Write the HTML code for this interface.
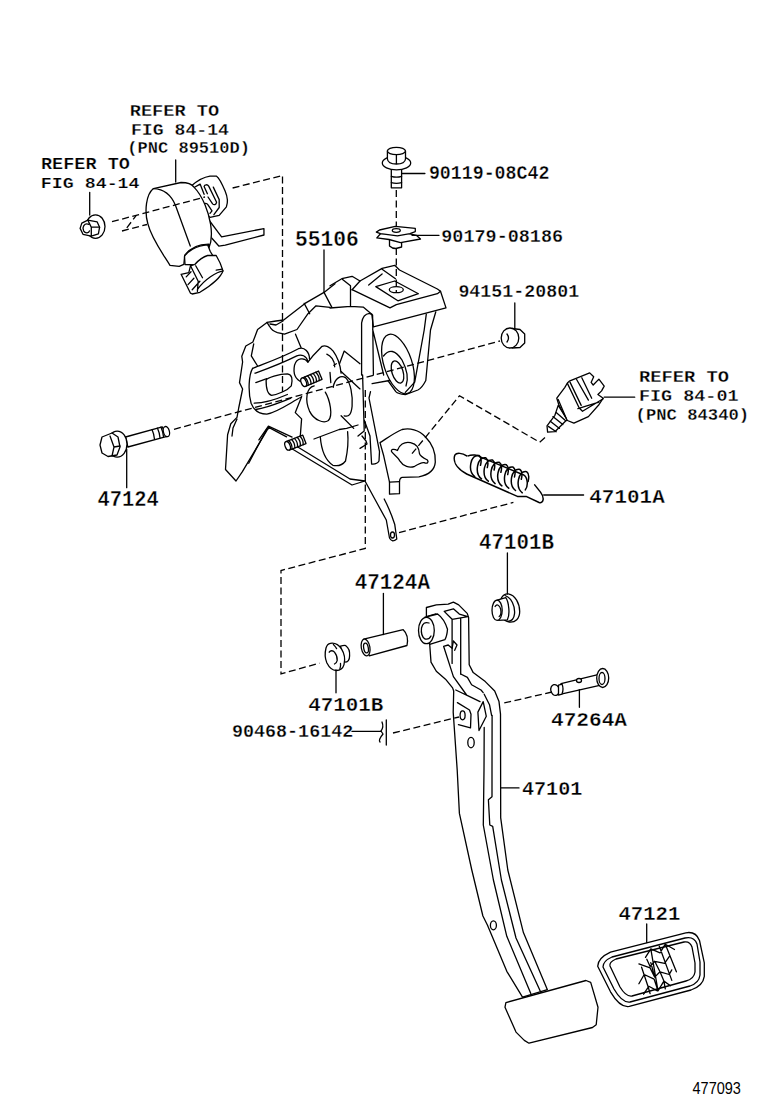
<!DOCTYPE html>
<html><head><meta charset="utf-8"><style>
html,body{margin:0;padding:0;background:#fff;width:760px;height:1112px;overflow:hidden}
svg{position:absolute;left:0;top:0}
.tm{font-family:"Liberation Mono",monospace;font-weight:bold;font-size:100px;fill:#000;stroke:#fff;stroke-width:1.6px}
.ts{font-family:"Liberation Sans",sans-serif;font-size:100px;fill:#000}
.s{fill:none;stroke:#000;stroke-width:1.3;stroke-linejoin:round;stroke-linecap:round}
.w{fill:#fff;stroke:#000;stroke-width:1.3;stroke-linejoin:round;stroke-linecap:round}
.d{fill:none;stroke:#000;stroke-width:1.3;stroke-dasharray:7 3.5}
</style></head><body>
<svg width="760" height="1112" viewBox="0 0 760 1112">
<path style="fill:#fff;stroke:none" d="M335,283.7 L341.8,278.7 L352.1,276.3 L360,281 L382.1,268.4 L394.7,265.3 L399.5,270 L437.4,289 L440.5,291.3 L446,307.9 L435.8,311.8 L430.5,330 L425.8,380.5 Q422,388 417.9,390 L405.3,394.7 Q398,394 395.8,391.6 L389.5,385 L380,388 L380,420 L400,429.5 L420,429 L433,437 L435,462 L420,477 L402,477.4 L399.5,480 L399.5,493.7 L389.5,494.2 L384.2,499 Q390,510 394.7,524.2 L396.8,539 Q392,543 389.5,538 L386.3,520 Q378,505 365,481 L352,485 L289,447 L286.6,436.8 L268.7,427.4 L242.4,471.6 L236,481 L225.5,469.5 L227.6,434.7 L230.8,423.7 L237,417.4 L238.7,408 L242.6,389 L239.5,382.6 L242.6,362 L241.8,356.3 L245.8,346 L252.9,342 L257.6,329.5 L267,322.4 L283.7,320 L305,303.4 L324,292.4 Z"/>
<g class="s">
<!-- top mount -->
<path d="M330,285.8 L341.8,278.7 L352.1,276.3 L360,281 L382.1,268.4 L394.7,265.3 L399.5,270 L437.4,289 L440.5,291.3 L446,307.9 L427.9,312.6 L373.4,326.8 L371.8,314.2"/>
<path d="M352.1,289.7 L390,307.9 L396.3,304.7 L437.4,293.7 L440.5,291.3"/>
<path d="M342.6,279.5 L350.5,285.8 L350.5,306.3 M330,308 L350.5,306.3 L363.2,307.1 L371.8,314.2 M360,281 L352.1,289.7"/>
<path d="M375.8,286.6 L394.7,281 L418.4,293.7 L397.9,300.8 Z"/>
<ellipse cx="396.3" cy="289.7" rx="7" ry="3"/>
<path d="M368.7,285 L382.1,274 M382.1,269.2 L395.5,278.7"/>
<!-- upper flange left -->
<path d="M335,283.7 L324,292.4 L305,303.4 L283.7,320 L276,321 L267,322.4 L269.5,326.3 Q272,331 277.4,332.6 L284.5,334.2 L297,329.5 L308,313.7 L316,305.8 L330,307.4"/>
<path d="M304.2,303.4 L309.7,313.7 M324,292.4 L331.9,307.4 M270,324 L276,325 L283,321 M295.5,334.2 L301,347.6"/>
<!-- left contour -->
<path d="M267,322.4 L257.6,329.5 L252.9,342 L245.8,346 L241.8,356.3 L242.6,362 L239.5,382.6 L242.6,389 L238.7,408 L237,417.4 L230.8,423.7 L227.6,434.7 L225.5,469.5 L236,481 L242.4,471.6 L268.7,427.4 L286.6,436.8"/>
<path d="M253.7,344 L251.3,355.8 L257.6,366 M237,419 L233,428 L232,436 M248.7,463.2 L266.6,429.5 L270,428"/>

<path class="s" d="M 252.6,368.4 C 258.9,365.3 279.5,358.9 298.4,348.7 C 304.7,346.3 309.5,352.6 309.5,358.9"/>
<path class="s" d="M 255.0,373.2 C 263.7,370.0 281.1,363.7 296.8,355.8 C 301.6,353.9 306.3,355.8 307.9,361.3"/>
<path class="s" d="M 307.9,362.1 C 304.7,357.4 296.8,357.4 294.5,365.3 C 292.9,373.2 295.3,379.5 302.4,382.3"/>
<path class="s" d="M 252.6,368.4 C 248.7,374.7 247.9,392.1 251.1,403.2 C 254.2,411.1 258.9,414.2 266.8,414.2 C 276.3,412.6 287.4,404.7 301.6,396.8"/>
<path class="s" d="M 254.2,403.2 C 263.7,403.2 274.7,400.0 287.4,394.5 M 255.8,409.5 C 266.8,407.9 277.9,403.2 290.5,398.4"/>
<path class="s" d="M 266.1,380.3 C 266.8,377.9 279.5,373.9 287.4,373.9 C 292.1,374.4 292.9,379.5 291.3,385.8 C 287.4,390.5 277.9,394.5 271.6,395.3 C 267.6,394.5 266.1,387.4 266.1,380.3 Z"/>
<path class="s" d="M 255.8,382.6 L 266.8,378.7"/>
<path class="s" d="M 307.9,362.1 C 314.2,353.4 318.9,349.5 322.1,346.3 C 325.3,344.7 330.0,347.1 333.2,351.1 C 337.9,357.4 340.3,365.3 341.1,373.2"/>
<path class="s" d="M 326.8,354.2 C 330.8,355.8 334.7,360.5 334.7,366.8 M 330.0,372.4 L 330.8,382.6 M 336.3,363.7 L 333.9,365.3"/>
<path class="s" d="M 301.6,396.8 L 295.3,412.6 L 301.6,418.9 L 300.0,439.9"/>
<path class="s" d="M 314.2,385.8 C 306.3,387.4 304.7,400.0 309.5,411.1 C 314.2,420.5 323.7,423.7 328.4,420.5 C 333.2,415.8 330.0,400.0 325.3,392.1"/>
<path class="s" d="M 333.2,387.4 C 334.7,377.9 341.1,374.7 345.8,377.9 C 350.5,382.6 352.9,395.3 352.1,406.3 C 351.3,414.2 348.9,417.4 344.2,415.8"/>
<path class="s" d="M 344.2,351.1 L 360.0,363.7 M 341.1,371.6 L 360.0,388.9 M 344.2,351.1 L 339.5,363.7 M 341.1,415.8 L 353.7,428.4"/>
<path class="s" d="M 268.4,426.1 L 292.1,437.1 M 268.4,426.1 L 258.9,439.9"/>
<path class="s" d="M 380.0,442.6 C 387.4,437.9 394.7,432.6 402.1,429.5 C 409.5,427.9 418.9,429.5 425.3,436.8 C 431.6,443.2 435.8,451.6 435.3,462.1 C 434.7,469.5 429.5,474.7 418.9,476.8 L 402.1,477.4 C 400.0,477.9 399.5,480.0 399.5,482.1 L 399.5,493.7 L 389.5,494.2 L 389.5,482.1 L 383.7,455.8 L 380.0,442.6"/>
<path class="s" d="M 389.5,482.1 L 399.5,481.6"/>
<path class="s" d="M 391.6,451.6 C 390.5,449.5 393.7,448.4 397.4,450.5 C 398.9,445.3 404.2,441.1 410.5,442.6 C 416.8,444.2 418.9,447.4 419.5,453.7 C 420.0,456.3 423.2,457.9 427.4,460.0 C 428.9,462.1 427.4,464.2 424.2,462.6 C 421.1,462.1 417.9,464.2 414.7,466.3 C 409.5,468.4 403.2,466.3 400.0,461.1 C 397.9,456.8 393.7,454.7 391.6,451.6 Z"/>
<!-- bottom plate -->
<path d="M288,441 L350,479 L365,481 M289,447 L352,485 L365,481 M314,439 L339.2,429.5 L346.6,428.4 L358,425"/>
<path d="M320.3,437 Q322,458 332.9,465.3 Q341,467 345.5,461 Q349,445 347.6,431.6"/>
<!-- center vertical plate -->
<path d="M361.6,375 L361.6,323 Q363,314 369.5,313.4 L372.6,315 L373.4,375 M362.6,375 L364.2,431 L358,436 M370.5,391.6 L369,398 L379.5,451.6 L379,461 Q377,464.5 371.6,464 L370,436 L364.2,420 M372.6,329.2 L383.7,375"/>
<!-- ear -->
<path d="M435.8,311.8 L430.5,330 L425.8,380.5 Q422,388 417.9,390 L405.3,394.7 Q398,394 395.8,391.6 L387.9,380.5 M372.1,383.7 L389.5,380.5"/>
<path d="M426.3,314.2 L424.2,330 L414.7,382.1 L405.3,392.4"/>
<ellipse cx="398" cy="364" rx="14" ry="31" transform="rotate(-18 398 364)"/>
<path d="M383.5,356 Q392,345 402,360 Q410,375 406,386"/>
<ellipse cx="397.5" cy="372" rx="5.5" ry="11.5" transform="rotate(-18 397.5 372)"/>
<!-- lever -->
<path d="M365,481 Q378,505 386.3,520 L389.5,538 Q392,543 396.8,539 L394.7,524.2 Q390,510 384.2,499"/>
<ellipse cx="392.5" cy="535" rx="2" ry="3"/>
<path d="M362,436 L366,441 L367,444 L360,448.4"/>

</g>
<!-- studs -->
<g class="w">
<g transform="rotate(-23 312 378.7)">
<rect x="303" y="374.2" width="18" height="9"/>
<ellipse cx="303" cy="378.7" rx="2.5" ry="4.5"/>
<path class="s" d="M306,374.2 Q308,378.7 306,383.2 M309,374.2 Q311,378.7 309,383.2 M312,374.2 Q314,378.7 312,383.2 M315,374.2 Q317,378.7 315,383.2 M318,374.2 Q320,378.7 318,383.2"/>
</g>
<g transform="rotate(-21 296 442.6)">
<rect x="287" y="438.1" width="18" height="9"/>
<ellipse cx="287" cy="442.6" rx="2.5" ry="4.5"/>
<path class="s" d="M290,438.1 Q292,442.6 290,447.1 M293,438.1 Q295,442.6 293,447.1 M296,438.1 Q298,442.6 296,447.1 M299,438.1 Q301,442.6 299,447.1 M302,438.1 Q304,442.6 302,447.1"/>
</g>
</g><!-- nut left -->
<g class="w">
<ellipse cx="95.5" cy="226.6" rx="9.5" ry="11.8"/>
<path d="M 81.8,223.1 L 87.8,220.1 L 97.2,221.9 L 99.6,227.2 L 98.4,233.8 L 91.3,236.1 L 83.0,234.3 L 80.1,228.4 Z"/>
<path class="s" d="M 87.8,220.1 L 91.3,227.2 L 91.3,236.1 M 91.3,227.2 L 99.6,227.2 M 88.9,224.3 C 84.2,222.5 81.8,227.2 83.6,230.8 C 85.4,233.8 88.9,233.2 89.5,230.8"/>
</g>
<!-- sensor (coords in zoom space) -->
<g transform="translate(135 165) scale(0.18421)">
<g class="w" style="vector-effect:non-scaling-stroke">
<path vector-effect="non-scaling-stroke" d="M380,270 L470,390 L700,345 L700,380 L490,435 L455,440 L415,395 Z"/>
</g></g>
<g class="w">
<path d="M 191.6,185.8 C 196.8,181.2 203.4,177.2 210.0,176.2 L 216.6,176.2 C 219.2,177.9 221.8,183.2 225.1,191.1 C 227.8,197.6 228.4,201.6 226.4,206.8 L 219.2,215.4 L 210.0,217.4 L 204.7,212.8 L 199.5,200.9 Z"/>
<path class="s" d="M 204.1,186.4 C 204.7,184.5 207.4,184.1 208.7,186.1 L 216.6,202.2 C 216.2,204.9 213.9,205.2 212.6,203.9 L 208.0,197.0 M 213.3,187.1 L 219.2,199.6 L 219.2,207.5 L 213.9,214.7 M 203.4,204.2 C 204.7,203.2 206.7,202.9 208.0,204.9 L 212.0,210.8 L 210.0,213.4 M 193.6,187.8 L 200.1,184.1 L 204.1,194.3 M 204.1,186.4 L 207.4,193.7"/>
</g>
<g transform="translate(135 165) scale(0.18421)"><g class="w">

<path vector-effect="non-scaling-stroke" d="M100,128 L250,95 C290,95 310,105 320,120 C370,170 400,260 410,320 C420,380 415,420 400,455 L400,430 C350,430 300,450 270,490 L265,540 L240,550 L190,545 C150,480 90,400 70,320 C50,250 60,160 100,128 Z"/>
<path class="s" vector-effect="non-scaling-stroke" d="M100,128 C160,130 200,170 220,220 L300,440"/>
</g>
</g>

<g class="w">
<path d="M 184.5,256.4 C 187.1,252.1 195.7,245.3 207.6,244.8 L 210.2,251.2 L 211.9,254.2 L 212.8,255.5 L 195.7,264.9 L 185.0,264.5 Z"/>
<path d="M 194.8,264.5 C 198.2,260.7 204.2,256.4 207.6,255.5 L 216.2,255.5 C 218.8,259.8 221.3,264.9 223.0,270.9 C 221.3,276.1 212.8,284.6 199.9,292.3 L 192.2,294.0 L 190.5,293.2 L 181.1,274.3 L 188.8,272.6 L 190.5,265.8 Z"/>
<path class="s" d="M 223.0,270.9 C 217.0,271.8 204.2,279.5 197.4,289.7 M 195.7,265.8 L 202.5,277.8 M 190.5,265.8 L 198.2,281.2 L 197.4,291.4 M 186.2,276.9 L 191.0,271.8 M 188.0,284.6 L 193.9,278.2 M 192.2,289.7 L 199.9,281.2 M 216.2,270.1 L 222.2,269.2"/>
</g>
<!-- bolt 90119 -->
<g class="w">
<path d="M391.3,168 L391.3,187.8 L401.6,187.8 L401.6,168 Z"/>
<path class="s" d="M391.3,176.3 Q396.5,178 401.6,176.3 M391.3,182.6 Q396.5,184 401.6,182.6"/>
<ellipse cx="396.5" cy="163" rx="14.2" ry="6.9"/>
<path d="M387.4,151 L387.4,159 Q388,164 396.4,164 Q405,164 405.5,159 L405.5,151 Z"/>
<ellipse cx="396.4" cy="151" rx="9" ry="3.6"/>
<line class="s" x1="396.4" y1="155" x2="396.4" y2="163.5"/>
</g>
<!-- clip 90179 -->
<g class="w">
<path d="M389.5,238 L389.5,246 Q392,248.5 396,248.5 L401.6,247 L401.6,238 Z"/>
<path d="M376.8,237.9 L389,239.5 L400.5,242.6 L420.5,239 L416.3,235.3 L404.7,232.6 L380.5,233.7 Z"/>
<path d="M376.3,232.1 L379.5,230 L395.3,226.3 L415.3,228.4 L415.3,231.6 L410,233.7 L397.4,235.8 L380.5,233.7 Z"/>
<ellipse cx="396.3" cy="230.5" rx="4" ry="1.8"/>
</g>
<!-- nut 94151 -->
<g class="w">
<path d="M512,328.5 L520,329.5 L524.7,334 L524.7,343 L520,347.5 L512,348 Z"/>
<ellipse cx="510" cy="338" rx="8.8" ry="10"/>
<path class="s" d="M507,334 Q510,338 507,342"/>
</g>
<!-- bolt 47124 -->
<g class="w">
<path d="M125.5,437 L162.2,426.9 L167,436.4 L127.9,447 Z"/>
<ellipse cx="166.4" cy="431.6" rx="3" ry="5.2" transform="rotate(-15 166.4 431.6)"/>
<path class="s" d="M152,429.6 Q154,434 154.5,439.3 M157.5,428.2 Q159.5,432.5 160,437.8 M161,427.2 Q163,431.5 163.5,436.8"/>
<ellipse cx="117.2" cy="444.1" rx="9.8" ry="13"/>
<path d="M102,437 L112,433 L118,437 L120,447 L117,455 L108,456.5 L102,453 L100,445 Z"/>
<path class="s" d="M110,436 L114,447 L112,456 M114,447 L120,446"/>
</g>
<!-- stop lamp switch -->
<g class="w">
<path d="M 558.2,405.4 L 554.9,415.3 L 547.0,425.8 L 547.6,432.1 L 554.9,431.7 L 565.4,421.2 L 567.4,419.9 Z"/>
<path class="s" d="M 550.3,421.2 L 559.5,428.4 M 548.3,426.4 L 556.2,431.7 M 552.9,416.6 L 562.8,424.5 M 556.2,412.6 L 565.4,420.5"/>
<path d="M 556.8,398.2 L 564.7,387.6 L 567.4,383.0 L 569.3,381.1 L 589.7,372.9 L 593.7,376.8 L 591.1,382.4 L 593.2,385.0 L 598.9,379.1 L 604.2,386.1 L 601.6,390.9 L 597.9,394.5 L 603.2,398.2 L 598.9,404.7 L 588.4,416.6 L 573.9,423.2 L 567.4,420.5 L 558.8,404.7 Z"/>
<path class="s" d="M 567.4,383.4 L 579.2,408.0 L 582.5,411.3 L 603.2,398.8 M 570.0,382.1 L 581.2,405.4 M 576.6,379.5 L 588.4,400.1 M 581.8,377.8 L 591.7,398.2 M 577.9,408.7 L 598.9,402.1 M 558.2,399.5 L 566.1,417.9"/>
</g>
<!-- spring 47101A -->
<g class="s" style="stroke-width:1.5">
<path d="M 468.2,455.9 C 471.1,454.5 478.3,454.5 481.2,457.4 L 523.2,474.7 C 528.2,477.6 528.2,486.3 525.3,489.9 M 466.7,474.0 L 517.4,496.4 L 526.1,496.4 L 539.1,502.5 C 543.4,503.7 544.9,497.9 540.5,492.1 L 534.7,484.9 M 466.7,455.9 C 462.4,453.0 456.6,452.3 454.8,455.2 C 453.0,460.3 455.1,467.5 466.7,474.0"/>
<path d="M 479.0,455.5 C 470.3,453.8 467.4,471.1 474.7,476.6 M 479.0,455.5 C 481.9,457.4 481.2,462.4 480.5,465.3 M 485.8,457.8 C 477.1,456.1 474.2,473.4 481.5,478.9 M 485.8,457.8 C 488.7,459.7 488.0,464.7 487.3,467.6 M 492.6,460.1 C 483.9,458.4 481.0,475.7 488.3,481.2 M 492.6,460.1 C 495.5,462.0 494.8,467.1 494.1,470.0 M 499.4,462.4 C 490.7,460.7 487.8,478.1 495.1,483.6 M 499.4,462.4 C 502.3,464.3 501.6,469.4 500.9,472.3 M 506.2,464.7 C 497.5,463.0 494.6,480.4 501.9,485.9 M 506.2,464.7 C 509.1,466.6 508.4,471.7 507.7,474.6 M 513.0,467.1 C 504.3,465.3 501.4,482.7 508.7,488.2 M 513.0,467.1 C 515.9,468.9 515.2,474.0 514.5,476.9 M 519.8,469.4 C 511.1,467.6 508.2,485.0 515.5,490.5 M 519.8,469.4 C 522.7,471.2 522.0,476.3 521.3,479.2 M 526.6,471.7 C 517.9,469.9 515.1,487.3 522.3,492.8 M 526.6,471.7 C 529.5,473.6 528.8,478.6 528.1,481.5"/>
</g>
<!-- bushing 47101B upper -->
<g class="w">
<path d="M 508.2,593.9 C 515.3,595.0 519.7,603.7 519.7,611.6 C 519.7,618.7 515.3,622.6 509.3,622.0 C 502.9,621.1 499.2,614.7 499.2,607.8 C 499.2,599.7 502.6,593.4 508.2,593.9 Z"/>
<path class="s" d="M 505.0,595.5 C 511.3,597.4 515.3,606.1 514.5,613.9 C 514.0,618.7 511.3,621.4 507.4,621.4"/>
<path d="M 497.1,600.2 L 505.8,597.7 C 508.9,602.1 510.2,614.7 507.4,619.8 L 497.6,620.4 Z"/>
<ellipse cx="497.1" cy="610.3" rx="5.1" ry="10.1"/>
<path class="s" d="M 495.1,606.5 C 496.6,603.4 499.8,605.3 500.7,609.2 C 501.4,613.2 500.7,615.5 499.2,616.6"/>
</g>
<!-- tube 47124A -->
<g class="w">
<path d="M363.7,639.2 L403.2,629.7 Q409,635 407,645.5 L369.2,655.8 Z"/>
<ellipse cx="365.6" cy="647.5" rx="4.3" ry="8.5" transform="rotate(-10 365.6 647.5)"/>
<ellipse class="s" cx="366" cy="648" rx="2.3" ry="5" transform="rotate(-10 366 648)"/>
</g>
<!-- bushing 47101B lower -->
<g class="w">
<path d="M 340.5,646.2 C 342.2,645.7 344.6,645.1 345.8,645.7 C 348.2,647.4 349.9,651.6 349.6,655.7 C 349.6,659.9 348.2,662.2 344.6,662.2 Z"/>
<path d="M 330.4,643.3 C 334.5,642.7 338.7,644.5 341.6,649.2 C 344.6,653.9 345.2,659.9 344.0,664.6 C 342.8,668.8 339.9,670.5 336.3,670.5 C 332.8,670.5 329.2,667.6 326.8,662.8 C 325.1,658.7 324.8,652.8 326.0,648.0 C 326.8,645.1 328.6,643.6 330.4,643.3 Z"/>
<path class="s" d="M 333.4,644.5 C 334.5,645.7 335.7,646.8 336.6,648.6 M 340.5,663.4 C 340.8,665.8 340.5,667.6 339.9,668.8 M 329.2,652.2 C 330.4,650.4 332.8,650.1 334.5,652.2 C 336.3,654.5 337.5,657.5 337.2,660.5 C 336.9,662.2 335.7,663.4 334.5,664.0"/>
</g>
<!-- pin 47264A -->
<g class="w">
<path d="M561,683.7 L600,674.2 L603,684.7 L561,694.2 Z"/>
<ellipse cx="555" cy="690" rx="4.2" ry="5.5" transform="rotate(-13 555 690)"/>
<path d="M558.5,685 L562,684 Q564,689 562,694 L558.5,695 Z"/>
<ellipse cx="579" cy="680.5" rx="2.5" ry="2" />
<ellipse cx="602.7" cy="678" rx="6" ry="9.5"/>
<ellipse class="s" cx="602" cy="678.5" rx="3" ry="6"/>
</g>
<!-- clip 90468 -->
<g class="s">
<line x1="386.3" y1="720" x2="386.3" y2="745"/>
<path d="M382,722 Q384,727 381,731 L383,734 Q378,740 380,742"/>
</g>
<!-- pedal arm 47101 -->
<g class="w">
<!-- outer arm fill -->
<path d="M429.7,644.3 L431,662.1 L436.3,671.3 L445.5,679.2 L452.6,687.9 L453.7,691 L453.2,712.1 L457.2,770 L459.4,813.4 L471.8,870 L482.9,916 L487.5,925.3 L506.8,971.3 L522.5,997.1 L547.4,989.7 L523.4,932.6 L507.8,870 L500.7,817.8 L500.5,714.2 L499,701.6 L494.7,691 L485.3,681.6 L473.2,672.6 L469.2,664.7 L468.6,617.4 L467.2,613.4 L458.7,604.9 L453.4,602.2 L448.2,604.2 L436.3,604.9 L426.4,607.5 L426.4,616.7 Z"/>
</g>
<g class="s">
<!-- inner lines A,B -->
<path d="M484.2,727.4 L484,770 L483.3,825 L493.4,880 L506.8,936.3 L530.8,993.4"/>
<path d="M492.1,715.3 L492,770 L492,796.8 L488.4,799.7 L489.8,825 L492.7,826.4 L501.4,880 L516,938 L540.9,992.5"/>
<path d="M484.2,694.2 L489.5,704.7 L491.6,715.3"/>
<!-- top box face -->
<path d="M426.4,616.7 L436,614 M444.2,611.4 L453.4,608.8 L459.3,614.1 L467.9,616.7 M444.2,611.4 L452.1,619.3 L467.9,616.7 M452.1,619.3 L452.1,663.4 M460.7,619 L460.7,674"/>
<path d="M443.6,646.3 L448.2,645 L452.1,648.3 L453.4,641 L457,645 L454.7,650.3 M443.6,646.3 L453.4,676.6 L466.6,695 L480,701.6 M455.8,690 L480,701.6"/>
<path d="M460.7,674 L467.4,677.4 L471.6,684.7 L481,690 L483.2,692.6"/>
<!-- diamond -->
<path d="M483.2,701.6 L477.9,712.1 L479,730.5 L486.3,716.3 Z"/>
<!-- slot -->
<path d="M457.4,702.6 L469.5,710 L471,714.2 L470.5,727.9 L458.4,724.7"/>
<ellipse cx="462.6" cy="715.3" rx="2.5" ry="4.5"/>
<ellipse cx="471" cy="742.6" rx="3.2" ry="5.2"/>
<ellipse cx="493.4" cy="925.3" rx="3" ry="4.5"/>
</g>
<!-- boss -->
<g class="w">
<path d="M424.5,617.4 L437.6,614 Q444.2,618.7 447.5,629.2 Q447,636 444.9,639.7 L429.7,644.3 Z"/>
<ellipse cx="426.4" cy="630.5" rx="7.9" ry="13.2"/>
<path class="s" d="M429,623 Q423,621 421.5,628 Q420.5,636 425,639 Q429,640 431,636"/>
</g>
<!-- pedal pad -->
<g class="w">
<path d="M505.9,1002.6 L586,980.5 L590.7,982.4 L598,1007.2 L596.2,1024.7 L592.5,1027.5 L529,1043.2 L524.3,1040.4 L516,1032.1 L505,1007.2 Z"/>
</g>
<!-- pedal pad 47121 -->
<g class="w">
<path d="M597.7,966.2 Q598,958 610.5,952.2 L685.8,932.8 Q696,931 699.5,940.5 L704.3,962.8 L704.3,976.4 Q703,986 691,990 L629.3,1006.4 Q620,1008 610.5,991.8 Z"/>
</g>
<g class="s">
<path d="M603,967 Q603,961 612,957 L685,938 Q694,936 697,944 L700,962 L700,975 Q699,983 690,986 L630,1002 Q622,1003 614,989 Z"/>
<path d="M610,966 Q609,962 616,959 L684,942 Q690,941 692,947 L695,963 L695,972 Q694,979 686,981 L632,996 Q626,997 620,987 Z"/>
<path d="M 650.8,948.8 L 658.0,990.9 M 659.3,946.2 L 671.8,980.4 M 665.3,944.2 L 676.4,971.8 M 641.6,967.2 L 648.2,987.0 L 650.1,993.6 M 645.5,957.4 L 650.8,948.8 L 660.0,952.8 L 665.3,944.2 L 674.5,949.5 M 646.8,959.3 L 650.1,966.6 L 654.7,961.3 L 664.6,963.3 L 669.2,956.7 M 638.9,963.9 L 650.1,967.9 L 654.7,977.1 L 660.0,971.8 L 669.2,974.5 L 671.8,969.9 M 638.9,983.7 L 644.2,974.5 L 654.1,979.1 L 658.0,990.9 L 663.9,981.1 L 670.5,985.7 M 643.6,994.2 L 648.8,986.3 L 657.4,990.9 M 650.8,962.6 L 654.7,977.1 M 654.7,961.3 L 660.0,971.8 L 663.9,981.1 L 665.3,988.9"/>
</g>
<!-- dashed lines -->
<g class="d">
<polyline points="112,221.7 205,197"/>
<polyline points="232.6,188 282.5,175.5 282.5,392"/>
<line x1="122" y1="231" x2="147" y2="224.5"/>
<line x1="126.8" y1="227.8" x2="136.3" y2="215.4"/>
<line x1="396.3" y1="190" x2="396.3" y2="226"/>
<line x1="396.3" y1="248" x2="396.3" y2="292"/>
<line x1="174" y1="429.3" x2="500" y2="341"/>
<polyline points="545,437.6 539.7,442.2 459.5,395.8 412,453.7"/>
<line x1="399" y1="532.6" x2="513.4" y2="502.4"/>
<polyline points="365.3,390 365.3,548.4 281,570.5 281,673.8 319.5,663.2"/>
<line x1="552" y1="692" x2="502" y2="703.5"/>
<line x1="393" y1="733" x2="459" y2="717"/>
</g>
<!-- leaders -->
<g class="s">
<line x1="175.7" y1="160" x2="175.7" y2="182"/>
<line x1="89.7" y1="192.4" x2="89.7" y2="215"/>
<line x1="401.6" y1="173.5" x2="424.9" y2="173.5"/>
<line x1="412" y1="235.3" x2="439" y2="235.3"/>
<line x1="324" y1="250" x2="324" y2="292"/>
<line x1="514.8" y1="303" x2="514.8" y2="329"/>
<line x1="604.2" y1="397.2" x2="634.7" y2="397.2"/>
<line x1="126.7" y1="449.4" x2="126.7" y2="487.7"/>
<line x1="543.7" y1="495" x2="583.6" y2="495"/>
<line x1="507.4" y1="553" x2="507.4" y2="594"/>
<line x1="383.4" y1="593.4" x2="383.4" y2="634.5"/>
<line x1="336" y1="670" x2="336" y2="692.8"/>
<line x1="352" y1="731.4" x2="381" y2="731.4"/>
<line x1="579.4" y1="689.6" x2="579.4" y2="707.3"/>
<line x1="501" y1="787.9" x2="519" y2="787.9"/>
<line x1="646.7" y1="924" x2="646.7" y2="942.5"/>
</g>

<text class="tm" transform="matrix(0.1866 0 0 0.1721 129.69 115.63)">REFER TO</text>
<text class="tm" transform="matrix(0.1817 0 0 0.1632 130.95 135.34)">FIG 84-14</text>
<text class="tm" transform="matrix(0.1708 0 0 0.1645 127.20 153.20)">(PNC 89510D)</text>
<text class="tm" transform="matrix(0.1853 0 0 0.1559 41.00 168.84)">REFER TO</text>
<text class="tm" transform="matrix(0.1828 0 0 0.1529 40.84 187.95)">FIG 84-14</text>
<text class="tm" transform="matrix(0.1827 0 0 0.1941 428.90 179.31)">90119-08C42</text>
<text class="tm" transform="matrix(0.1846 0 0 0.1912 441.29 241.81)">90179-08186</text>
<text class="tm" transform="matrix(0.2131 0 0 0.2221 294.93 246.08)">55106</text>
<text class="tm" transform="matrix(0.1829 0 0 0.1853 458.40 296.91)">94151-20801</text>
<text class="tm" transform="matrix(0.1876 0 0 0.1603 639.09 382.34)">REFER TO</text>
<text class="tm" transform="matrix(0.1847 0 0 0.1632 638.92 400.84)">FIG 84-01</text>
<text class="tm" transform="matrix(0.1722 0 0 0.1630 635.57 419.50)">(PNC 84340)</text>
<text class="tm" transform="matrix(0.2041 0 0 0.2119 97.59 506.00)">47124</text>
<text class="tm" transform="matrix(0.2098 0 0 0.2015 589.27 502.80)">47101A</text>
<text class="tm" transform="matrix(0.2079 0 0 0.2162 479.08 548.98)">47101B</text>
<text class="tm" transform="matrix(0.2092 0 0 0.2119 354.67 589.00)">47124A</text>
<text class="tm" transform="matrix(0.2090 0 0 0.2059 308.17 710.79)">47101B</text>
<text class="tm" transform="matrix(0.1840 0 0 0.1868 231.90 736.81)">90468-16142</text>
<text class="tm" transform="matrix(0.2112 0 0 0.2015 550.97 725.60)">47264A</text>
<text class="tm" transform="matrix(0.2020 0 0 0.2103 521.89 794.59)">47101</text>
<text class="tm" transform="matrix(0.2065 0 0 0.2030 618.38 919.80)">47121</text>
<text class="ts" transform="matrix(0.1450 0 0 0.1634 692.51 1093.54)">477093</text>
</svg>
</body></html>
